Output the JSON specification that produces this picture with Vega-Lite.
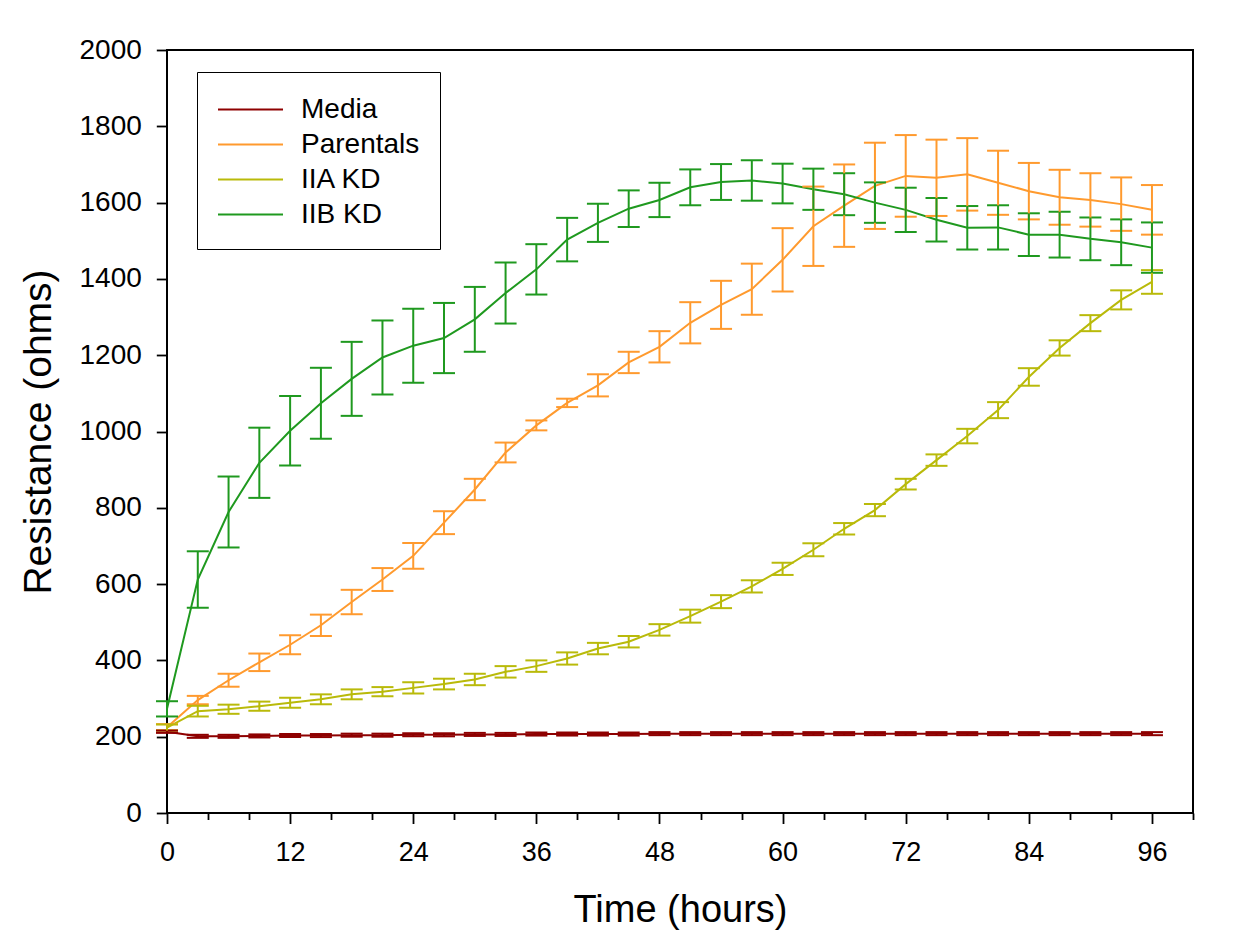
{
  "$schema": "https://vega.github.io/schema/vega-lite/v6.json",
  "width": 1026,
  "height": 763,
  "autosize": {"type": "none"},
  "padding": {"left": 167, "top": 50, "right": 57, "bottom": 125},
  "background": "white",
  "config": {
    "font": "Liberation Sans",
    "view": {"stroke": "black", "strokeWidth": 2},
    "axis": {"domain": false, "grid": false, "tickColor": "black", "tickWidth": 1.8, "labelColor": "black", "titleColor": "black", "labelFont": "Liberation Sans", "titleFont": "Liberation Sans", "titleFontWeight": "normal"}
  },
  "data": {"values": [
    {"time":0,"series":"Media","mean":213,"err":3},{"time":3,"series":"Media","mean":201,"err":4},{"time":6,"series":"Media","mean":201,"err":4},{"time":9,"series":"Media","mean":202,"err":4},{"time":12,"series":"Media","mean":203,"err":4},{"time":15,"series":"Media","mean":203,"err":4},{"time":18,"series":"Media","mean":204,"err":4},{"time":21,"series":"Media","mean":204,"err":4},{"time":24,"series":"Media","mean":205,"err":4},{"time":27,"series":"Media","mean":205,"err":4},{"time":30,"series":"Media","mean":206,"err":4},{"time":33,"series":"Media","mean":206,"err":4},{"time":36,"series":"Media","mean":207,"err":4},{"time":39,"series":"Media","mean":207,"err":4},{"time":42,"series":"Media","mean":207,"err":4},{"time":45,"series":"Media","mean":207,"err":4},{"time":48,"series":"Media","mean":208,"err":4},{"time":51,"series":"Media","mean":208,"err":4},{"time":54,"series":"Media","mean":208,"err":4},{"time":57,"series":"Media","mean":208,"err":4},{"time":60,"series":"Media","mean":208,"err":4},{"time":63,"series":"Media","mean":208,"err":4},{"time":66,"series":"Media","mean":208,"err":4},{"time":69,"series":"Media","mean":208,"err":4},{"time":72,"series":"Media","mean":208,"err":4},{"time":75,"series":"Media","mean":208,"err":4},{"time":78,"series":"Media","mean":208,"err":4},{"time":81,"series":"Media","mean":208,"err":4},{"time":84,"series":"Media","mean":208,"err":4},{"time":87,"series":"Media","mean":208,"err":4},{"time":90,"series":"Media","mean":208,"err":4},{"time":93,"series":"Media","mean":208,"err":4},{"time":96,"series":"Media","mean":208,"err":4},
    {"time":0,"series":"Parentals","mean":225,"err":8},{"time":3,"series":"Parentals","mean":296,"err":11},{"time":6,"series":"Parentals","mean":348,"err":17},{"time":9,"series":"Parentals","mean":395,"err":23},{"time":12,"series":"Parentals","mean":441,"err":25},{"time":15,"series":"Parentals","mean":492,"err":28},{"time":18,"series":"Parentals","mean":553,"err":32},{"time":21,"series":"Parentals","mean":612,"err":30},{"time":24,"series":"Parentals","mean":674,"err":34},{"time":27,"series":"Parentals","mean":761,"err":30},{"time":30,"series":"Parentals","mean":848,"err":28},{"time":33,"series":"Parentals","mean":945,"err":26},{"time":36,"series":"Parentals","mean":1016,"err":13},{"time":39,"series":"Parentals","mean":1075,"err":11},{"time":42,"series":"Parentals","mean":1121,"err":29},{"time":45,"series":"Parentals","mean":1181,"err":28},{"time":48,"series":"Parentals","mean":1222,"err":41},{"time":51,"series":"Parentals","mean":1285,"err":54},{"time":54,"series":"Parentals","mean":1332,"err":63},{"time":57,"series":"Parentals","mean":1373,"err":67},{"time":60,"series":"Parentals","mean":1450,"err":83},{"time":63,"series":"Parentals","mean":1538,"err":104},{"time":66,"series":"Parentals","mean":1592,"err":108},{"time":69,"series":"Parentals","mean":1644,"err":113},{"time":72,"series":"Parentals","mean":1670,"err":107},{"time":75,"series":"Parentals","mean":1665,"err":100},{"time":78,"series":"Parentals","mean":1674,"err":95},{"time":81,"series":"Parentals","mean":1652,"err":84},{"time":84,"series":"Parentals","mean":1630,"err":74},{"time":87,"series":"Parentals","mean":1614,"err":72},{"time":90,"series":"Parentals","mean":1607,"err":70},{"time":93,"series":"Parentals","mean":1596,"err":70},{"time":96,"series":"Parentals","mean":1581,"err":65},
    {"time":0,"series":"IIA KD","mean":224,"err":8},{"time":3,"series":"IIA KD","mean":267,"err":14},{"time":6,"series":"IIA KD","mean":272,"err":12},{"time":9,"series":"IIA KD","mean":280,"err":12},{"time":12,"series":"IIA KD","mean":289,"err":13},{"time":15,"series":"IIA KD","mean":298,"err":13},{"time":18,"series":"IIA KD","mean":311,"err":13},{"time":21,"series":"IIA KD","mean":318,"err":12},{"time":24,"series":"IIA KD","mean":328,"err":15},{"time":27,"series":"IIA KD","mean":338,"err":14},{"time":30,"series":"IIA KD","mean":350,"err":15},{"time":33,"series":"IIA KD","mean":370,"err":15},{"time":36,"series":"IIA KD","mean":385,"err":15},{"time":39,"series":"IIA KD","mean":405,"err":16},{"time":42,"series":"IIA KD","mean":431,"err":15},{"time":45,"series":"IIA KD","mean":449,"err":15},{"time":48,"series":"IIA KD","mean":480,"err":15},{"time":51,"series":"IIA KD","mean":516,"err":17},{"time":54,"series":"IIA KD","mean":554,"err":17},{"time":57,"series":"IIA KD","mean":594,"err":16},{"time":60,"series":"IIA KD","mean":640,"err":16},{"time":63,"series":"IIA KD","mean":690,"err":17},{"time":66,"series":"IIA KD","mean":745,"err":15},{"time":69,"series":"IIA KD","mean":794,"err":16},{"time":72,"series":"IIA KD","mean":862,"err":14},{"time":75,"series":"IIA KD","mean":925,"err":15},{"time":78,"series":"IIA KD","mean":988,"err":19},{"time":81,"series":"IIA KD","mean":1056,"err":21},{"time":84,"series":"IIA KD","mean":1143,"err":23},{"time":87,"series":"IIA KD","mean":1219,"err":20},{"time":90,"series":"IIA KD","mean":1284,"err":21},{"time":93,"series":"IIA KD","mean":1345,"err":25},{"time":96,"series":"IIA KD","mean":1392,"err":31},
    {"time":0,"series":"IIB KD","mean":273,"err":20},{"time":3,"series":"IIB KD","mean":612,"err":74},{"time":6,"series":"IIB KD","mean":789,"err":93},{"time":9,"series":"IIB KD","mean":918,"err":92},{"time":12,"series":"IIB KD","mean":1002,"err":91},{"time":15,"series":"IIB KD","mean":1074,"err":93},{"time":18,"series":"IIB KD","mean":1138,"err":97},{"time":21,"series":"IIB KD","mean":1194,"err":97},{"time":24,"series":"IIB KD","mean":1225,"err":97},{"time":27,"series":"IIB KD","mean":1245,"err":92},{"time":30,"series":"IIB KD","mean":1294,"err":85},{"time":33,"series":"IIB KD","mean":1363,"err":80},{"time":36,"series":"IIB KD","mean":1425,"err":66},{"time":39,"series":"IIB KD","mean":1503,"err":57},{"time":42,"series":"IIB KD","mean":1547,"err":50},{"time":45,"series":"IIB KD","mean":1584,"err":48},{"time":48,"series":"IIB KD","mean":1607,"err":45},{"time":51,"series":"IIB KD","mean":1640,"err":47},{"time":54,"series":"IIB KD","mean":1654,"err":47},{"time":57,"series":"IIB KD","mean":1658,"err":53},{"time":60,"series":"IIB KD","mean":1650,"err":52},{"time":63,"series":"IIB KD","mean":1635,"err":54},{"time":66,"series":"IIB KD","mean":1622,"err":55},{"time":69,"series":"IIB KD","mean":1600,"err":53},{"time":72,"series":"IIB KD","mean":1581,"err":58},{"time":75,"series":"IIB KD","mean":1555,"err":57},{"time":78,"series":"IIB KD","mean":1534,"err":57},{"time":81,"series":"IIB KD","mean":1535,"err":58},{"time":84,"series":"IIB KD","mean":1516,"err":56},{"time":87,"series":"IIB KD","mean":1516,"err":60},{"time":90,"series":"IIB KD","mean":1505,"err":56},{"time":93,"series":"IIB KD","mean":1496,"err":60},{"time":96,"series":"IIB KD","mean":1482,"err":66}
  ]},
  "layer": [
    {
      "mark": {"type": "line", "strokeWidth": 2, "opacity": 1},
      "encoding": {
        "x": {"field": "time", "type": "quantitative", "title": "Time (hours)", "scale": {"domain": [0, 100], "nice": false},
          "axis": {"orient": "bottom",
            "values": [0,2,4,6,8,10,12,14,16,18,20,22,24,26,28,30,32,34,36,38,40,42,44,46,48,50,52,54,56,58,60,62,64,66,68,70,72,74,76,78,80,82,84,86,88,90,92,94,96,98,100],
            "tickSize": {"condition": {"test": "datum.value % 12 === 0", "value": 10.5}, "value": 6.5},
            "labelExpr": "datum.value % 12 === 0 && datum.value < 100 ? datum.label : ''",
            "labelFontSize": 27, "labelPadding": 16, "labelOverlap": false, "labelFlush": false,
            "titleFontSize": 38, "titlePadding": 26}},
        "y": {"field": "mean", "type": "quantitative", "title": "Resistance (ohms)", "scale": {"domain": [0, 2000], "nice": false},
          "axis": {"values": [0,200,400,600,800,1000,1200,1400,1600,1800,2000], "format": "d", "tickSize": 10.7,
            "labelFontSize": 28, "labelPadding": 15, "titleFontSize": 39, "titlePadding": 21}},
        "color": {"field": "series", "type": "nominal",
          "scale": {"domain": ["Media", "Parentals", "IIA KD", "IIB KD"], "range": ["#8E0000", "#FF9A2E", "#B9BA0A", "#1F991F"]},
          "legend": {"orient": "none", "legendX": 30, "legendY": 22, "title": null,
            "symbolType": "M-1,0H2.94", "symbolSize": 1089, "symbolStrokeWidth": 2, "symbolOpacity": 1,
            "labelFontSize": 28, "labelOffset": 49, "labelColor": "black", "labelFont": "Liberation Sans",
            "rowPadding": 3, "padding": 20, "strokeColor": "black", "fillColor": "white"}}
      }
    },
    {
      "mark": {"type": "errorbar", "opacity": 1, "ticks": {"size": 22, "opacity": 1}, "rule": {"opacity": 1}, "thickness": 2},
      "encoding": {
        "x": {"field": "time", "type": "quantitative", "title": "Time (hours)"},
        "y": {"field": "mean", "type": "quantitative", "title": "Resistance (ohms)"},
        "yError": {"field": "err"},
        "color": {"field": "series", "type": "nominal"}
      }
    }
  ]
}
